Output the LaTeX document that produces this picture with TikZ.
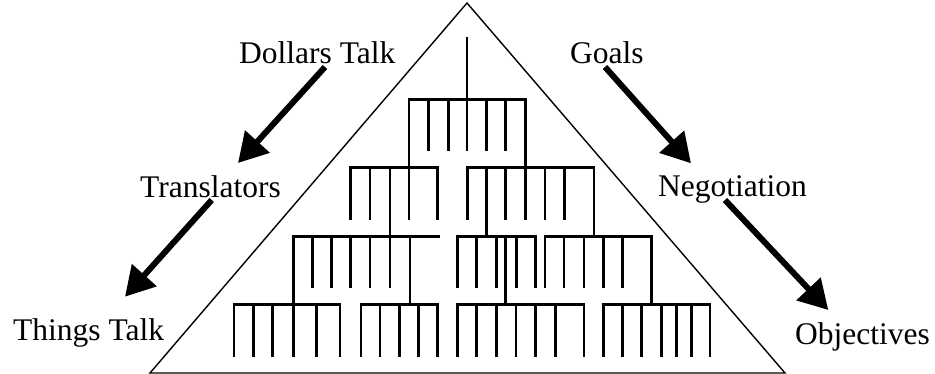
\documentclass[tikz,border=0pt]{standalone}
\usepackage{fontspec}
\setmainfont{Liberation Serif}
\usetikzlibrary{arrows.meta}
\begin{document}
\begin{tikzpicture}[x=1pt,y=-1pt,
  lbl/.style={inner sep=0pt,anchor=base west,font=\fontsize{31.5}{36}\selectfont},
  frame/.style={line width=1.4pt,line join=miter},
  treeline/.style={line width=2.6pt,line cap=rect},
  bigarrow/.style={line width=6pt,-{Triangle[length=29pt,width=32pt]}}]
\useasboundingbox (0,0) rectangle (935,374);
% pyramid outline
\draw[frame] (467,3) -- (150,373) -- (785,373) -- cycle;
% labels
\node[lbl] (dollars) at (239,64) {Dollars Talk};
\node[lbl] (goals) at (570,64) {Goals};
\node[lbl] (transl) at (140,198) {Translators};
\node[lbl] (negot) at (658,197) {Negotiation};
\node[lbl] (things) at (13,340) {Things Talk};
\node[lbl] (object) at (795,344) {Objectives};
% arrow end points
\coordinate (a1s) at (325,67);  \coordinate (a1e) at (238,163);
\coordinate (a2s) at (211.7,200); \coordinate (a2e) at (125,296.7);
\coordinate (a3s) at (605,67);  \coordinate (a3e) at (691,163.3);
\coordinate (a4s) at (725,200); \coordinate (a4e) at (828.3,310);
\draw[bigarrow] (a1s) -- (a1e);
\draw[bigarrow] (a2s) -- (a2e);
\draw[bigarrow] (a3s) -- (a3e);
\draw[bigarrow] (a4s) -- (a4e);
% ---- tree ----
% level 1
\draw[treeline] (467,38) -- (467,99.3);
\draw[treeline] (409,99.3) -- (525.7,99.3);
\foreach \x in {428.3,448.3,467,486.7,505.7} \draw[treeline] (\x,99.3) -- (\x,150);
% level 2
\draw[treeline] (350.7,167.7) -- (437.7,167.7);
\draw[treeline] (467.3,167.7) -- (594,167.7);
\draw[treeline] (409,99.3) -- (409,218.3);
\draw[treeline] (525.7,99.3) -- (525.7,218.3);
\foreach \x in {350.7,370,437.7,467.3,505.7,545,564.3} \draw[treeline] (\x,167.7) -- (\x,218.3);
% level 3
\draw[treeline] (293.3,236.3) -- (438.3,236.3);
\draw[treeline] (457.3,236.3) -- (535.7,236.3);
\draw[treeline] (545,236.3) -- (651.7,236.3);
\draw[treeline] (390,167.7) -- (390,286.7);
\draw[treeline] (486.7,167.7) -- (486.7,236.3);
\draw[treeline] (594,167.7) -- (594,236.3);
\foreach \x in {312.3,331.7,350.7,370,457.3,476.7,496.7,516.7,535.7,545,564,584,603.3,622.7} \draw[treeline] (\x,236.3) -- (\x,286.7);
% level 4
\draw[treeline] (234,304.3) -- (340,304.3);
\draw[treeline] (361,304.3) -- (437.7,304.3);
\draw[treeline] (457.5,304.3) -- (584,304.3);
\draw[treeline] (603.3,304.3) -- (710,304.3);
\draw[treeline] (293.3,236.3) -- (293.3,355.7);
\foreach \x in {410,505.7,651.7} \draw[treeline] (\x,236.3) -- (\x,304.3);
\foreach \x in {234,253.3,272.7,316.7,340,361,380,399.3,418.7,437.7,457.5,476.7,496.7,516,535.5,555.5,584,603.3,622.7,641.7,661.7,676.7,691.5,710} \draw[treeline] (\x,304.3) -- (\x,355.7);
\end{tikzpicture}
\end{document}
